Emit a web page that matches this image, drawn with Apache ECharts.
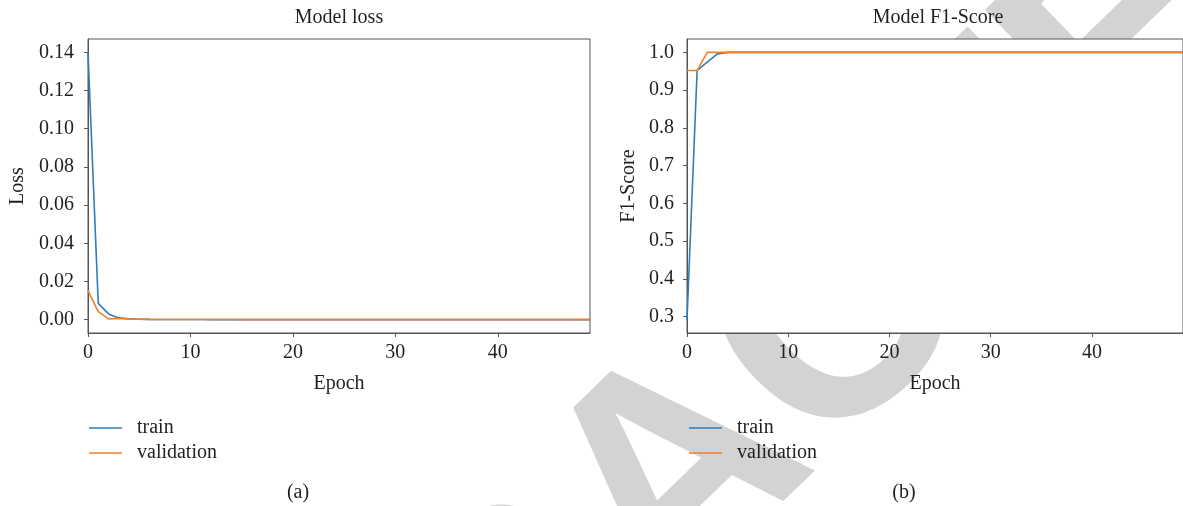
<!DOCTYPE html>
<html>
<head>
<meta charset="utf-8">
<script src="https://cdn.jsdelivr.net/npm/echarts@6/dist/echarts.min.js"></script>
<style>
  html, body { margin: 0; padding: 0; background: #fff; }
  #chart { width: 1183px; height: 506px; }
</style>
</head>
<body>
<div id="chart"></div>
<script>
// Training history over 50 epochs
const epochs = [
  0, 1, 2, 3, 4, 5, 6, 7, 8, 9,
  10, 11, 12, 13, 14, 15, 16, 17, 18, 19,
  20, 21, 22, 23, 24, 25, 26, 27, 28, 29,
  30, 31, 32, 33, 34, 35, 36, 37, 38, 39,
  40, 41, 42, 43, 44, 45, 46, 47, 48, 49
];

const lossTrain = [
  0.1400, 0.0085, 0.0030, 0.0009, 0.0004, 0.0002, 0.00012, 0.00008, 0.00006, 0.00005,
  0.00004, 0.00004, 0.00003, 0.00003, 0.00003, 0.00002, 0.00002, 0.00002, 0.00002, 0.00002,
  0.00002, 0.00001, 0.00001, 0.00001, 0.00001, 0.00001, 0.00001, 0.00001, 0.00001, 0.00001,
  0.00001, 0.00001, 0.00001, 0.00001, 0.00001, 0.00001, 0.00001, 0.00001, 0.00001, 0.00001,
  0.00001, 0.00001, 0.00001, 0.00001, 0.00001, 0.00001, 0.00001, 0.00001, 0.00001, 0.00001
];

const lossVal = [
  0.0152, 0.0042, 0.0004, 0.0006, 0.0004, 0.0002, 0.00012, 0.00009, 0.00007, 0.00006,
  0.00005, 0.00005, 0.00004, 0.00004, 0.00004, 0.00003, 0.00003, 0.00003, 0.00003, 0.00003,
  0.00002, 0.00002, 0.00002, 0.00002, 0.00002, 0.00002, 0.00002, 0.00002, 0.00002, 0.00002,
  0.00002, 0.00002, 0.00002, 0.00002, 0.00002, 0.00002, 0.00002, 0.00002, 0.00002, 0.00002,
  0.00002, 0.00002, 0.00001, 0.00001, 0.00001, 0.00001, 0.00001, 0.00001, 0.00001, 0.00001
];

const f1Train = [
  0.292, 0.952, 0.974, 0.996, 1.0, 1.0, 1.0, 1.0, 1.0, 1.0,
  1.0, 1.0, 1.0, 1.0, 1.0, 1.0, 1.0, 1.0, 1.0, 1.0,
  1.0, 1.0, 1.0, 1.0, 1.0, 1.0, 1.0, 1.0, 1.0, 1.0,
  1.0, 1.0, 1.0, 1.0, 1.0, 1.0, 1.0, 1.0, 1.0, 1.0,
  1.0, 1.0, 1.0, 1.0, 1.0, 1.0, 1.0, 1.0, 1.0, 1.0
];

const f1Val = [
  0.952, 0.952, 1.0, 1.0, 1.0, 1.0, 1.0, 1.0, 1.0, 1.0,
  1.0, 1.0, 1.0, 1.0, 1.0, 1.0, 1.0, 1.0, 1.0, 1.0,
  1.0, 1.0, 1.0, 1.0, 1.0, 1.0, 1.0, 1.0, 1.0, 1.0,
  1.0, 1.0, 1.0, 1.0, 1.0, 1.0, 1.0, 1.0, 1.0, 1.0,
  1.0, 1.0, 1.0, 1.0, 1.0, 1.0, 1.0, 1.0, 1.0, 1.0
];

const epochTicks = [0, 10, 20, 30, 40];
const lossTicks = [0, 0.02, 0.04, 0.06, 0.08, 0.10, 0.12, 0.14];
const f1Ticks = [0.3, 0.4, 0.5, 0.6, 0.7, 0.8, 0.9, 1.0];
const seriesNames = ['train', 'validation'];

const SERIF = '"Liberation Serif", "DejaVu Serif", serif';
const INK = '#231f20';
const FRAME = '#555';
const BLUE = '#2f7dbb';
const ORANGE = '#f27f2c';

const pairs = ys => epochs.map((e, i) => [e, ys[i]]);

const textStyle = { fontFamily: SERIF, fontSize: 20, color: INK };

function xAxisFor(gridIndex) {
  return {
    type: 'value', gridIndex, min: 0, max: 49,
    name: 'Epoch', nameLocation: 'middle', nameGap: 41,
    nameTextStyle: textStyle,
    axisLine: { show: true, onZero: false, lineStyle: { color: FRAME, width: 1 } },
    axisTick: { show: true, length: 4, customValues: epochTicks, lineStyle: { color: FRAME } },
    axisLabel: { customValues: epochTicks, margin: 10, ...textStyle },
    splitLine: { show: false }
  };
}

function yAxisFor(gridIndex, name, min, max, ticks, digits, gap, margin) {
  return {
    type: 'value', gridIndex, min, max,
    name, nameLocation: 'middle', nameGap: gap,
    nameTextStyle: textStyle,
    axisLine: { show: true, onZero: false, lineStyle: { color: FRAME, width: 1 } },
    axisTick: { show: true, length: 4, customValues: ticks, lineStyle: { color: FRAME } },
    axisLabel: { customValues: ticks, margin, formatter: v => v.toFixed(digits), ...textStyle },
    splitLine: { show: false }
  };
}

function legendFor(left) {
  return {
    data: seriesNames, orient: 'vertical', left, top: 418, padding: 0,
    icon: 'rect', itemWidth: 33, itemHeight: 1.6, itemGap: 5,
    selectedMode: false,
    textStyle: { ...textStyle, padding: [0, 0, 0, 10] }
  };
}

function lineSeries(name, data, color, axisIndex) {
  return {
    name, type: 'line', data, color,
    xAxisIndex: axisIndex, yAxisIndex: axisIndex,
    symbol: 'none', showSymbol: false, silent: true,
    lineStyle: { width: 1.6, color }
  };
}

function caption(text, x, y) {
  return {
    type: 'text', x, y, z: 10, silent: true,
    style: { text, align: 'center', verticalAlign: 'middle', fill: INK,
             fontFamily: SERIF, fontSize: 20 }
  };
}

const chart = echarts.init(document.getElementById('chart'), null, { renderer: 'canvas' });

chart.setOption({
  animation: false,
  backgroundColor: '#fff',
  graphic: [
    // diagonal stamp behind both plots
    {
      type: 'text', x: 681, y: 481, rotation: 44 * Math.PI / 180, z: -10, silent: true,
      style: { text: 'RETRACTED', align: 'center', verticalAlign: 'middle',
               fill: '#d3d3d3', fontFamily: '"Liberation Sans", Arial, sans-serif',
               fontWeight: 'bold', fontSize: 310 }
    },
    caption('Model loss', 339, 18),
    caption('Model F1-Score', 938, 18),
    caption('(a)', 298, 493),
    caption('(b)', 904, 493)
  ],
  grid: [
    { left: 88, top: 39, width: 502, height: 294, show: true, backgroundColor: '#fff',
      borderColor: FRAME, borderWidth: 1 },
    { left: 687, top: 39, width: 502, height: 294, show: true, backgroundColor: '#fff',
      borderColor: FRAME, borderWidth: 1 }
  ],
  xAxis: [xAxisFor(0), xAxisFor(1)],
  yAxis: [
    yAxisFor(0, 'Loss', -0.007, 0.147, lossTicks, 2, 60, 14),
    yAxisFor(1, 'F1-Score', 0.2566, 1.0354, f1Ticks, 1, 48, 13)
  ],
  legend: [legendFor(89), legendFor(689)],
  series: [
    lineSeries('train', pairs(lossTrain), BLUE, 0),
    lineSeries('validation', pairs(lossVal), ORANGE, 0),
    lineSeries('train', pairs(f1Train), BLUE, 1),
    lineSeries('validation', pairs(f1Val), ORANGE, 1)
  ]
});
</script>
</body>
</html>
